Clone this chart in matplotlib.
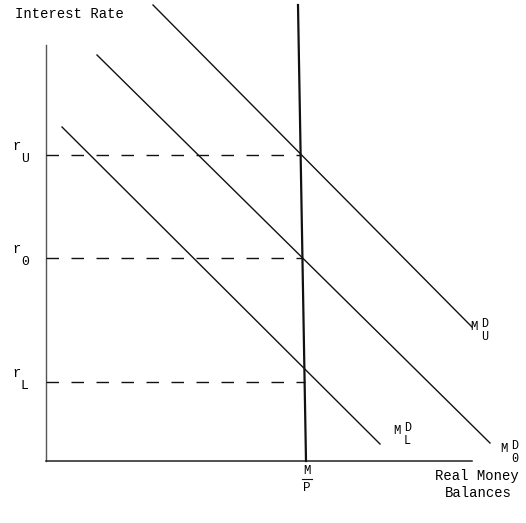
"""Money market: real money supply vs shifting money demand."""
import matplotlib
matplotlib.use("Agg")
import matplotlib.pyplot as plt  # type: ignore
import numpy as np  # type: ignore

plt.rcParams["font.family"] = ["Liberation Mono", "DejaVu Sans Mono"]

# demand curves (x, y endpoints, origin at the axis corner)
demand_names = ["U", "0", "L"]
demand_x = [[107, 426], [51, 444], [16, 334]]
demand_y = [[456, 134], [406, 18], [334, 17]]

# real money supply M/P (nearly vertical)
supply_x = [252, 260]
supply_y = [456, 0]

# interest rate levels and where the dashed guides stop
rate_labels = ["U", "0", "L"]
rate_values = [306, 203, 79]
rate_ends = [254, 257, 259]

label_pos = {"U": (424, 128), "0": (454, 6), "L": (347, 24)}


def main():
    """."""
    fig = plt.figure(figsize=(5.26, 5.23), dpi=100)
    ax = fig.add_axes([0, 0, 1, 1])
    ax.set_xlim(-46, 480)
    ax.set_ylim(-62, 461)
    ax.axis("off")

    # axes
    ax.plot([0, 0], [0, 416], color="#555555", lw=1.0)
    ax.plot([0, 426], [0, 0], color="#222222", lw=1.1)

    for xs, ys in zip(demand_x, demand_y):
        ax.plot(xs, ys, color="#111111", lw=1.0)
    ax.plot(supply_x, supply_y, color="#111111", lw=1.6)

    for lab, val, end in zip(rate_labels, rate_values, rate_ends):
        ax.plot([0, end], [val, val], color="#111111", lw=1.0,
                dashes=(9, 9))
        ax.text(-34, val + 2, "r", fontsize=10, ha="left", va="bottom")
        ax.text(-25, val + 2, lab, fontsize=9.5, ha="left", va="top")

    for name in demand_names:
        px, py = label_pos[name]
        ax.text(px, py, "M", fontsize=9, ha="left", va="bottom")
        ax.text(px + 11, py + 3, "D", fontsize=8.5, ha="left", va="bottom")
        ax.text(px + 11, py + 2, name, fontsize=8.5, ha="left", va="top")

    ax.text(-31, 447, "Interest Rate", fontsize=10, ha="left", va="center")
    ax.text(389, -15, "Real Money", fontsize=10, ha="left", va="center")
    ax.text(399, -32, "Balances", fontsize=10, ha="left", va="center")

    ax.text(261, -10, "M", fontsize=9, ha="center", va="center")
    ax.plot([256, 266], [-18, -18], color="#111111", lw=0.8)
    ax.text(261, -27, "P", fontsize=9, ha="center", va="center")

    fig.savefig("out.png", dpi=100)
    plt.close(fig)


if __name__ == "__main__":
    main()
